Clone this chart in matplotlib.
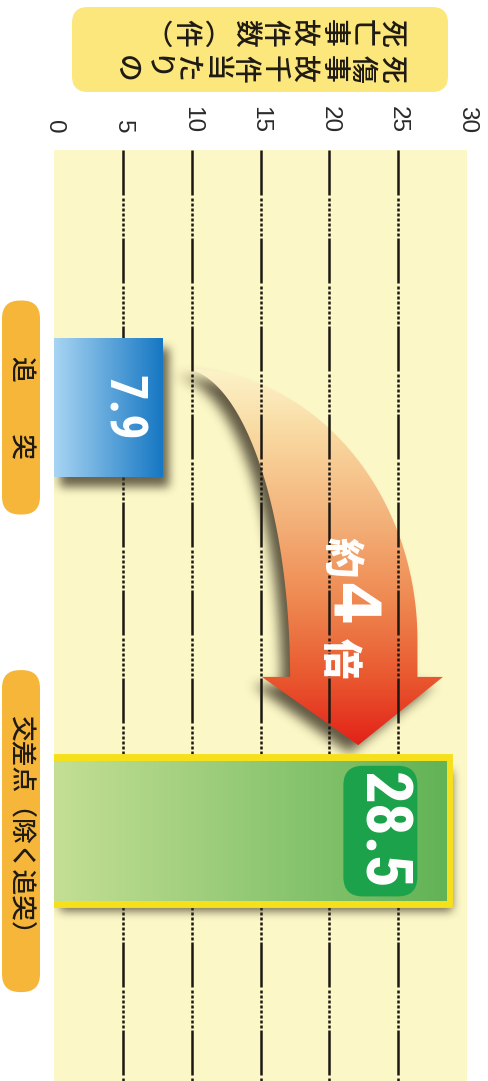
import numpy as np
import matplotlib
matplotlib.use("Agg")
import matplotlib.pyplot as plt
from matplotlib import transforms as mtransforms
from matplotlib import font_manager as fm
from matplotlib.patches import FancyBboxPatch, Polygon
from matplotlib.colors import LinearSegmentedColormap, to_rgb
from matplotlib.path import Path

plt.rcParams["lines.scale_dashes"] = False

# ---- data -------------------------------------------------------------
categories = ["追　　突", "交差点（除く追突）"]
values = [7.9, 28.5]
value_labels = ["7.9", "28.5"]
ticks = [0, 5, 10, 15, 20, 25, 30]
title_lines = ["死傷事故千件当たりの", "死亡事故件数（件）"]
ratio_parts = ["約", "4", "倍"]

# ---- styles -----------------------------------------------------------
W, H = 488, 1081
CJK = ["Noto Sans CJK JP", "DejaVu Sans"]
NUM = ["Liberation Sans", "DejaVu Sans"]
bar_colors = [("#a8d5f3", "#1677c3"), ("#c4df94", "#62b356")]
arrow_stops = [(0.0, "#fdf3cb"), (0.16, "#f9dba3"), (0.40, "#f3b27a"),
               (0.62, "#ee8850"), (0.83, "#e9562e"), (1.0, "#e32219")]
shadow_color = "#3b3323"


def narrow_bold_font():
    """Pick a bold condensed sans face if one is installed."""
    order = ["liberation sans narrow", "roboto condensed", "open sans condensed",
             "noto sans", "roboto", "open sans", "dejavu sans", "liberation sans"]
    best, best_key = None, None
    for f in fm.fontManager.ttflist:
        name = f.name.lower()
        fname = f.fname.lower().replace("-", "").replace("_", "")
        stretch = str(f.stretch).lower()
        narrow = ("narrow" in name or "condensed" in name or "condensed" in stretch
                  or "narrow" in fname or "condensed" in fname)
        if not narrow:
            continue
        w = f.weight if isinstance(f.weight, (int, float)) else (700 if "bold" in str(f.weight) else 400)
        if w < 600 or w > 800 or f.style != "normal" or "mono" in name or "serif" in name:
            continue
        base = next((i for i, o in enumerate(order) if name.startswith(o)), len(order))
        if "extracondensed" in fname or "extra" in stretch:
            width_rank = 2
        elif "semicondensed" in fname or "semi" in stretch:
            width_rank = 1
        else:
            width_rank = 0
        key = (base, width_rank, abs(w - 700))
        if best_key is None or key < best_key:
            best, best_key = f, key
    if best is None:
        return fm.FontProperties(family=NUM, weight="bold")
    return fm.FontProperties(fname=best.fname)


fig = plt.figure(figsize=(W / 100, H / 100), dpi=100)
fig.patch.set_facecolor("white")
renderer = fig.canvas.get_renderer()

ax = fig.add_axes([54 / W, 0, 413 / W, 931 / H])
ax.set_facecolor("#fcf7c6")
ax.set_xlim(0, 30)
ax.set_ylim(1.590, -0.608)
for s in ax.spines.values():
    s.set_visible(False)
ax.set_yticks([])
ax.xaxis.tick_top()
ax.set_xticks(ticks)
ax.set_xticklabels([str(t) for t in ticks], rotation=-90, ha="center",
                   va="bottom", fontsize=17.5, family=NUM, color="#2a2a2a")
ax.tick_params(axis="x", length=0, pad=12)

# pixel frame measured from the top-left corner of the figure
px = mtransforms.Affine2D().scale(1 / W, -1 / H).translate(0, 1) + fig.transFigure


def box_blur(a, r, axis):
    pad = [(0, 0), (0, 0)]
    pad[axis] = (r + 1, r)
    c = np.cumsum(np.pad(a, pad, mode="edge"), axis=axis)
    n = a.shape[axis]
    hi = np.take(c, np.arange(2 * r + 1, 2 * r + 1 + n), axis=axis)
    lo = np.take(c, np.arange(0, n), axis=axis)
    return (hi - lo) / (2 * r + 1)


def soft_shadow(verts, dx, dy, r, strength, zorder):
    """Blurred drop shadow of a data-space polygon, offset by (dx, dy) pixels."""
    x0d, y0d = ax.transAxes.transform((0, 0))
    x1d, y1d = ax.transAxes.transform((1, 1))
    nx, ny = int(round(x1d - x0d)), int(round(y1d - y0d))
    disp = ax.transData.transform(np.asarray(verts)) + np.array([dx, -dy])
    gx, gy = np.meshgrid(x0d + np.arange(nx) + 0.5, y0d + np.arange(ny) + 0.5)
    inside = Path(disp).contains_points(np.column_stack([gx.ravel(), gy.ravel()]))
    m = inside.reshape(ny, nx).astype(float)
    for _ in range(3):
        m = box_blur(box_blur(m, r, 0), r, 1)
    rgba = np.zeros((ny, nx, 4))
    rgba[..., :3] = to_rgb(shadow_color)
    rgba[..., 3] = m * strength
    xl, yl = ax.get_xlim(), ax.get_ylim()
    ax.imshow(rgba, extent=(xl[0], xl[1], yl[0], yl[1]), origin="lower",
              aspect="auto", zorder=zorder, interpolation="nearest")


# ---- grid lines: long dash followed by a run of short dashes ----------
dash_px = [45, 3] + [3, 2] * 8
yl = ax.get_ylim()
for t in ticks[1:-1]:
    ax.plot([t, t], [yl[1], yl[0]], color="#1c1813", lw=1.8, zorder=2.5,
            dashes=[d * 0.72 for d in dash_px])

# ---- bars -------------------------------------------------------------
ypos = np.arange(len(values))
bar_h = 0.33
bars = ax.barh(ypos, values, height=bar_h, color="none", zorder=4)
bars[1].set_edgecolor("#f6e01c")
bars[1].set_linewidth(10)

grad_h = np.linspace(0, 1, 256).reshape(1, -1)
for bar, (c0, c1) in zip(bars, bar_colors):
    cmap = LinearSegmentedColormap.from_list("bar", [c0, c1])
    x0, y0, w, h = bar.get_x(), bar.get_y(), bar.get_width(), bar.get_height()
    im = ax.imshow(grad_h, cmap=cmap, extent=(x0, x0 + w, y0 + h, y0),
                   aspect="auto", zorder=4.1, interpolation="bicubic")
    im.set_clip_path(bar)
    soft_shadow([(x0, y0), (x0 + w, y0), (x0 + w, y0 + h), (x0, y0 + h)],
                dx=6, dy=10, r=4, strength=0.75, zorder=3)

# ---- curved arrow from the first bar down to the second ----------------
t = np.linspace(0, np.pi / 2, 80)
start_x = values[0] + 1.25
start_y = ypos[0] - 0.093
shaft_end = 0.636
tip = (22.1, ypos[1] - bar_h / 2 - 0.038)
ox = start_x + 17.25 * np.sin(t)
oy = (shaft_end - 0.087) - (shaft_end - 0.087 - start_y) * np.cos(t)
ix = start_x + 8.0 * np.sin(t)
iy = shaft_end - (shaft_end - start_y) * np.cos(t)
arrow_verts = (list(zip(ox, oy))
               + [(ox[-1], shaft_end), (28.25, shaft_end), tip,
                  (15.1, shaft_end), (ix[-1], shaft_end)]
               + list(zip(ix[::-1], iy[::-1])))
soft_shadow(arrow_verts, dx=-9, dy=8, r=5, strength=0.8, zorder=1.8)
arrow = Polygon(arrow_verts, closed=True, fc="none", ec="none", zorder=2)
ax.add_patch(arrow)
acmap = LinearSegmentedColormap.from_list("arrow", arrow_stops)
xs = [v[0] for v in arrow_verts]
im = ax.imshow(np.linspace(0, 1, 256).reshape(-1, 1), cmap=acmap,
               extent=(min(xs), max(xs), tip[1], start_y), origin="upper",
               aspect="auto", zorder=2, interpolation="bicubic")
im.set_clip_path(arrow)

ratio_y = [0.353, 0.464, 0.592]
ratio_x = [20.8, 21.35, 20.7]
for part, x, y in zip(ratio_parts, ratio_x, ratio_y):
    if part.isdigit():
        ax.text(x, y, part, rotation=-90, ha="center", va="center", color="white",
                fontsize=46, fontweight="heavy", family=["DejaVu Sans"], zorder=5)
    else:
        ax.text(x, y, part, rotation=-90, ha="center", va="center", color="white",
                fontsize=29, fontweight="heavy", family=CJK, zorder=5)

# ---- value labels (size fitted to the label length in pixels) ----------
num_font = narrow_bold_font()
label_styles = [dict(size=41, length=66, off=-29.5, box=None),
                dict(size=52, length=118, off=-47.5, box="#1ca24b")]
for i, (val, txt, st) in enumerate(zip(values, value_labels, label_styles)):
    fp = num_font.copy()
    fp.set_size(st["size"])
    ann = ax.annotate(txt, xy=(val, ypos[i]), xytext=(st["off"], 0),
                      textcoords="offset points", rotation=-90, ha="center",
                      va="center", color="white", fontproperties=fp, zorder=6)
    ext = ann.get_window_extent(renderer)
    if ext.height > st["length"]:
        fp.set_size(st["size"] * st["length"] / ext.height)
        ann.set_fontproperties(fp)
    if st["box"]:
        ann.set_bbox(dict(boxstyle="round,pad=0.1,rounding_size=0.3",
                          fc=st["box"], ec="none"))

# ---- category labels in rounded orange tabs ---------------------------
tab_half = [107, 161]
for i, (cat, half) in enumerate(zip(categories, tab_half)):
    yc = H - ax.transData.transform((0, ypos[i]))[1]
    tab = FancyBboxPatch((2, yc - half), 38, 2 * half, transform=px,
                         boxstyle="round,pad=0,rounding_size=18",
                         fc="#f6b63a", ec="none")
    fig.add_artist(tab)
    fig.text(21, yc, cat, transform=px, rotation=-90, ha="center", va="center",
             fontsize=18.5, family=CJK, fontweight="medium", color="#1e1a14")

# ---- axis title: vertical writing, turned a quarter clockwise ---------
title_box = FancyBboxPatch((72, 7), 376, 85, transform=px,
                           boxstyle="round,pad=0,rounding_size=16",
                           fc="#fbe77b", ec="none")
fig.add_artist(title_box)
vertical_forms = {"（": "︵", "）": "︶"}
rows_y = [69, 33]
pitch = 29.5
for line, yc in zip(title_lines, rows_y):
    x = 392
    for ch in line:
        fig.text(x, yc, vertical_forms.get(ch, ch), transform=px, rotation=-90,
                 ha="center", va="center", fontsize=20, family=CJK,
                 fontweight="medium", color="#1e1a14")
        x -= pitch

ax.set_xlim(0, 30)
ax.set_ylim(1.590, -0.608)
fig.savefig("out.png", dpi=100, facecolor="white")
